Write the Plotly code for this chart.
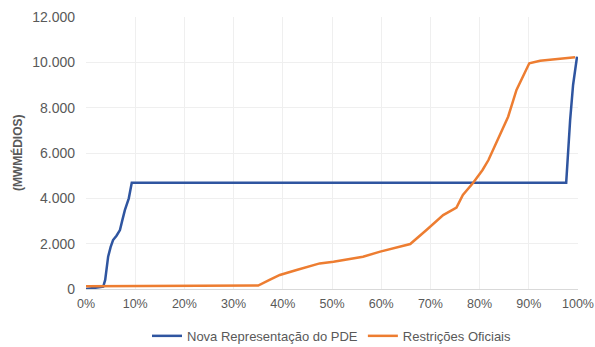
import plotly.graph_objects as go

# Data (fraction of time, MWmédios)
pde_x = [0, 0.035, 0.039, 0.042, 0.045, 0.05, 0.055, 0.062, 0.069, 0.074, 0.079, 0.087, 0.093,
         0.976, 0.98, 0.984, 0.99, 0.998]
pde_y = [0, 100, 400, 985, 1425, 1850, 2160, 2350, 2600, 3050, 3480, 4000, 4690,
         4690, 6200, 7450, 9000, 10250]

ofi_x = [0, 0.30, 0.35, 0.373, 0.394, 0.428, 0.475, 0.503, 0.563, 0.598, 0.659, 0.692, 0.726,
         0.753, 0.766, 0.787, 0.806, 0.818, 0.838, 0.858, 0.875, 0.901, 0.923, 0.994]
ofi_y = [120, 130, 150, 400, 620, 840, 1130, 1200, 1425, 1650, 1985, 2600, 3260,
         3590, 4150, 4690, 5250, 5690, 6650, 7600, 8780, 9960, 10070, 10220]

series_names = ["Nova Representação do PDE", "Restrições Oficiais"]
colors = ["#2F55A0", "#ED7D31"]
x_ticks = [0, 0.1, 0.2, 0.3, 0.4, 0.5, 0.6, 0.7, 0.8, 0.9, 1.0]
x_tick_labels = ["0%", "10%", "20%", "30%", "40%", "50%", "60%", "70%", "80%", "90%", "100%"]
y_title = "(MWMÉDIOS)"

FONT = "Liberation Sans"
GRAY = "#595959"

fig = go.Figure()
fig.add_trace(go.Scatter(x=pde_x, y=pde_y, mode="lines", name=series_names[0],
                         line=dict(color=colors[0], width=2.5)))
fig.add_trace(go.Scatter(x=ofi_x, y=ofi_y, mode="lines", name=series_names[1],
                         line=dict(color=colors[1], width=2.5)))

fig.add_annotation(text="<b>" + y_title + "</b>", xref="paper", yref="paper",
                   x=-0.140, y=0.5, xanchor="center", yanchor="middle",
                   textangle=-90, showarrow=False, font=dict(family=FONT, size=12, color=GRAY))

fig.update_layout(
    width=595, height=347,
    margin=dict(l=86, r=17, t=17, b=58),
    paper_bgcolor="white", plot_bgcolor="white",
    separators=",.",
    font=dict(family=FONT, size=13, color=GRAY),
    showlegend=True,
    legend=dict(orientation="h", x=0.5, xanchor="center",
                yref="container", y=0.032, yanchor="middle",
                font=dict(family=FONT, size=13, color=GRAY), itemwidth=30,
                traceorder="normal"),
    xaxis=dict(range=[0, 1], tickvals=x_ticks, ticktext=x_tick_labels, automargin=False,
               showgrid=True, gridcolor="#EFEFEF", gridwidth=1,
               showline=True, linecolor="#D9D9D9", linewidth=1,
               zeroline=False, ticks="", ticklabelstandoff=3,
               ticklabeloverflow="allow",
               tickfont=dict(size=12.5, color=GRAY)),
    yaxis=dict(range=[0, 12000], dtick=2000, tickformat=",d", automargin=False,
               showgrid=True, gridcolor="#EFEFEF", gridwidth=1,
               zeroline=False, showline=False, ticks="", ticklabelstandoff=10,
               tickfont=dict(size=14, color=GRAY)),
)

fig.write_html("out.html", config={"displayModeBar": False},
               post_script="document.body.style.margin='0';document.body.style.overflow='hidden';")
